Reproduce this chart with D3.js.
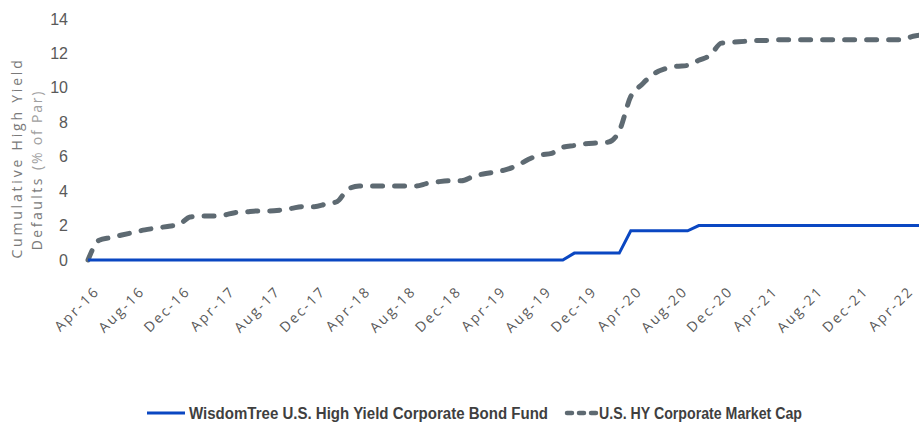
<!DOCTYPE html>
<html>
<head>
<meta charset="utf-8">
<script src="https://cdn.jsdelivr.net/npm/d3@7"></script>
<style>
  body { margin: 0; background: #fff; }
  svg { display: block; }
</style>
</head>
<body>
<div id="chart"></div>
<script>
var W = 919, H = 426;

// monthly points, Apr-16 .. Jun-22
var startMonth = new Date(2016, 3, 1);
var fundValues = [
  0, 0, 0, 0, 0, 0, 0, 0, 0, 0, 0, 0,          // Apr-16 .. Mar-17
  0, 0, 0, 0, 0, 0, 0, 0, 0, 0, 0, 0,          // Apr-17 .. Mar-18
  0, 0, 0, 0, 0, 0, 0, 0, 0, 0, 0, 0,          // Apr-18 .. Mar-19
  0, 0, 0, 0, 0, 0, 0, 0.4, 0.4, 0.4, 0.4, 0.4, // Apr-19 .. Mar-20
  1.7, 1.7, 1.7, 1.7, 1.7, 1.7, 2.0, 2.0, 2.0, 2.0, 2.0, 2.0, // Apr-20 .. Mar-21
  2.0, 2.0, 2.0, 2.0, 2.0, 2.0, 2.0, 2.0, 2.0, 2.0, 2.0, 2.0, // Apr-21 .. Mar-22
  2.0, 2.0, 2.0                                 // Apr-22 .. Jun-22
];
var marketValues = [
  0, 1.15, 1.3, 1.45, 1.6, 1.75, 1.85, 1.95, 2.05, 2.5, 2.55, 2.55,
  2.6, 2.75, 2.8, 2.85, 2.85, 2.9, 3.0, 3.1, 3.1, 3.25, 3.4, 4.1,
  4.3, 4.3, 4.3, 4.3, 4.3, 4.3, 4.45, 4.55, 4.6, 4.6, 4.85, 5.0,
  5.1, 5.25, 5.5, 5.85, 6.1, 6.2, 6.55, 6.65, 6.75, 6.8, 6.85, 7.5,
  9.5, 10.2, 10.8, 11.1, 11.25, 11.3, 11.6, 11.9, 12.6, 12.65, 12.7, 12.75,
  12.75, 12.8, 12.8, 12.8, 12.8, 12.8, 12.8, 12.8, 12.8, 12.8, 12.8, 12.8,
  12.8, 13.0, 13.1
];
var yTicks = [0, 2, 4, 6, 8, 10, 12, 14];
var seriesNames = ["WisdomTree U.S. High Yield Corporate Bond Fund", "U.S. HY Corporate Market Cap"];

var blue = "#0a47c2";
var grey = "#5e6a72";

function monthDate(i) {
  return new Date(startMonth.getFullYear(), startMonth.getMonth() + i, 1);
}

var fund = fundValues.map((v, i) => [monthDate(i), v]);
var market = marketValues.map((v, i) => [monthDate(i), v]);

var x = d3.scaleTime()
  .domain([new Date(2016, 3, 1), new Date(2022, 3, 1)])
  .range([88, 902]);
var y = d3.scaleLinear().domain([0, 14]).range([260, 19]);

var svg = d3.select("#chart").append("svg")
  .attr("width", W)
  .attr("height", H);

// y tick labels
svg.append("g")
  .attr("transform", "translate(68,0)")
  .call(d3.axisLeft(y).tickValues(yTicks).tickSize(0).tickPadding(0))
  .call(g => g.select(".domain").remove())
  .selectAll("text")
  .attr("fill", "#595959")
  .style("font-family", "'Liberation Sans Narrow', 'Liberation Sans', sans-serif")
  .style("font-size", "16px");

// x tick labels
var xTicks = d3.range(0, 73, 4).map(monthDate);
svg.append("g")
  .call(d3.axisBottom(x).tickValues(xTicks).tickFormat(d3.timeFormat("%b-%y")).tickSize(0).tickPadding(0))
  .call(g => g.select(".domain").remove())
  .selectAll("text")
  .attr("fill", "#595959")
  .style("font-family", "'Open Sans', 'Liberation Sans', sans-serif")
  .style("font-size", "14px")
  .style("letter-spacing", "2.2px")
  .attr("text-anchor", "end")
  .attr("y", 0)
  .attr("dy", 0)
  .attr("transform", "translate(12,292) rotate(-45)");

// y-axis title, two lines
var titleStyle = t => t
  .attr("fill", "#7a7a7a")
  .attr("text-anchor", "middle")
  .style("font-family", "'Open Sans', 'Liberation Sans', sans-serif")
  .style("font-size", "14px")
  .style("letter-spacing", "2.8px");

svg.append("text")
  .attr("transform", "translate(22,158) rotate(-90)")
  .text("Cumulative High Yield")
  .call(titleStyle);

var title2 = svg.append("text")
  .attr("transform", "translate(42,170) rotate(-90)")
  .call(titleStyle)
  .style("letter-spacing", "2.5px");
title2.append("tspan").text("Defaults ");
title2.append("tspan").attr("fill", "#a0a0a0").style("letter-spacing", "1.8px").text("(% of Par)");

// lines
var lineFund = d3.line().x(d => x(d[0])).y(d => y(d[1]));
var lineMarket = d3.line().x(d => x(d[0])).y(d => y(d[1])).curve(d3.curveMonotoneX);

svg.append("path")
  .datum(market)
  .attr("fill", "none")
  .attr("stroke", grey)
  .attr("stroke-width", 5)
  .attr("stroke-linecap", "round")
  .attr("stroke-dasharray", "10,12")
  .attr("d", lineMarket);

svg.append("path")
  .datum(fund)
  .attr("fill", "none")
  .attr("stroke", blue)
  .attr("stroke-width", 3)
  .attr("d", lineFund);

// legend
var legend = svg.append("g").attr("transform", "translate(0,413)");
legend.append("line")
  .attr("x1", 147).attr("x2", 185)
  .attr("stroke", blue).attr("stroke-width", 3);
legend.append("line")
  .attr("x1", 567).attr("x2", 596)
  .attr("stroke", grey).attr("stroke-width", 4.5)
  .attr("stroke-linecap", "round")
  .attr("stroke-dasharray", "5,7");

var legendStyle = t => t
  .attr("fill", "#3f3f3f")
  .attr("dy", "0.36em")
  .style("font-family", "'Liberation Sans Narrow', 'Liberation Sans', sans-serif")
  .style("font-weight", "bold")
  .style("font-size", "16px");

legend.append("text").attr("x", 189).attr("textLength", 359).attr("lengthAdjust", "spacingAndGlyphs")
  .text(seriesNames[0]).call(legendStyle);
legend.append("text").attr("x", 599).attr("textLength", 203).attr("lengthAdjust", "spacingAndGlyphs")
  .text(seriesNames[1]).call(legendStyle);
</script>
</body>
</html>
